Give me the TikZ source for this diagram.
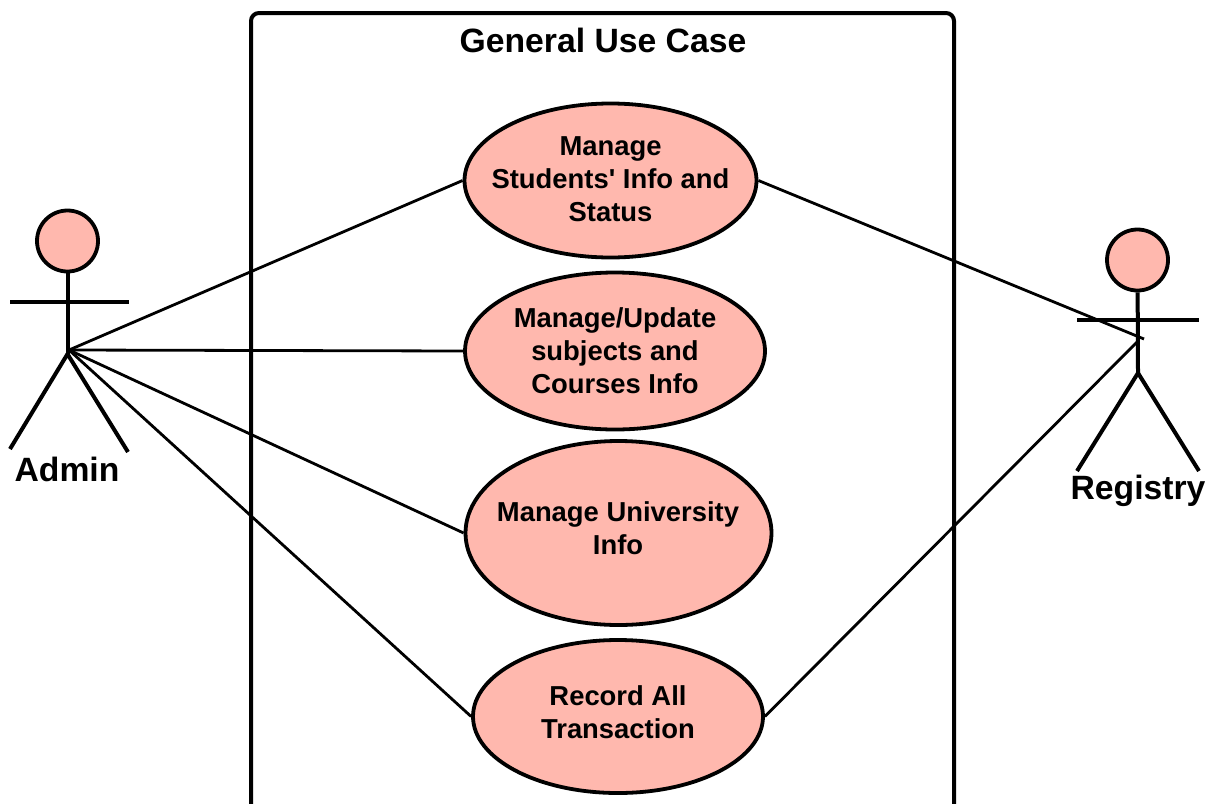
\documentclass[tikz,border=0pt]{standalone}
\usepackage{fontspec}
\setmainfont{Liberation Sans}
\newfontfamily\apfont{Liberation Sans}
\usetikzlibrary{shapes.geometric}
\definecolor{ucfill}{HTML}{FFB8AE}
\tikzset{
  uc/.style={draw=black,line width=3.8pt,fill=ucfill,ellipse,inner sep=-60pt},
  uctext/.style={inner sep=0pt,align=center,font=\fontsize{27.4}{32.8}\selectfont\bfseries},
  lnk/.style={draw=black,line width=2.8pt},
  fig/.style={draw=black,line width=4pt},
  head/.style={draw=black,line width=3.8pt,fill=ucfill,circle,inner sep=0pt,minimum size=61pt},
  lab/.style={inner sep=0pt,font=\fontsize{33.7}{38}\selectfont\bfseries},
}
\begin{document}
\begin{tikzpicture}[x=1pt,y=-1pt]
\useasboundingbox (0,0) rectangle (1214,803);
\fill[white] (0,0) rectangle (1214,803);
% system boundary
\draw[fig,rounded corners=8pt] (251,830) -- (251,13) -- (954,13) -- (954,830);
\node[lab] (title) at (603,40) {General Use Case};
% use cases
\node[uc,minimum width=292pt,minimum height=154pt] (u1) at (610.5,180.5) {};
\node[uctext] (t1) at (610.5,179) {Manage\\Students{\apfont'} Info and\\Status};
\node[uc,minimum width=300pt,minimum height=157pt] (u2) at (615,351) {};
\node[uctext] (t2) at (615,351) {Manage/Update\\subjects and\\Courses Info};
\node[uc,minimum width=306pt,minimum height=184pt] (u3) at (618.5,533) {};
\node[uctext] (t3) at (618,528) {Manage University\\Info};
\node[uc,minimum width=290pt,minimum height=153pt] (u4) at (618,716.5) {};
\node[uctext] (t4) at (618,712.5) {Record All\\Transaction};
% Admin
\node[head] (ah) at (67.5,241) {};
\coordinate (an) at (67.5,354);
\coordinate (ao) at (69,350);
\coordinate (aa1) at (10,302);
\coordinate (aa2) at (129,302);
\coordinate (al1) at (10,449);
\coordinate (al2) at (128,452);
\draw[fig] (ah) -- (an);
\draw[fig] (aa1) -- (aa2);
\draw[fig] (al1) -- (an) -- (al2);
\node[lab] (al) at (67,469) {Admin};
% Registry
\node[head] (rh) at (1137.5,260) {};
\coordinate (rn) at (1138,373);
\coordinate (ra1) at (1077,320);
\coordinate (ra2) at (1199,320);
\coordinate (rl1) at (1077,471);
\coordinate (rl2) at (1199,471);
\coordinate (rc) at (1144,339);
\coordinate (rd) at (1137,342);
\draw[fig] (rh) -- (rn);
\draw[fig] (ra1) -- (ra2);
\draw[fig] (rl1) -- (rn) -- (rl2);
\node[lab] (rl) at (1138,491) {Registry};
% associations
\draw[lnk] (ao) -- (u1.west);
\draw[lnk] (ao) -- (u2.west);
\draw[lnk] (ao) -- (u3.west);
\draw[lnk] (ao) -- (u4.west);
\draw[lnk] (u1.east) -- (rc);
\draw[lnk] (u4.east) -- (rd);
\end{tikzpicture}
\end{document}
